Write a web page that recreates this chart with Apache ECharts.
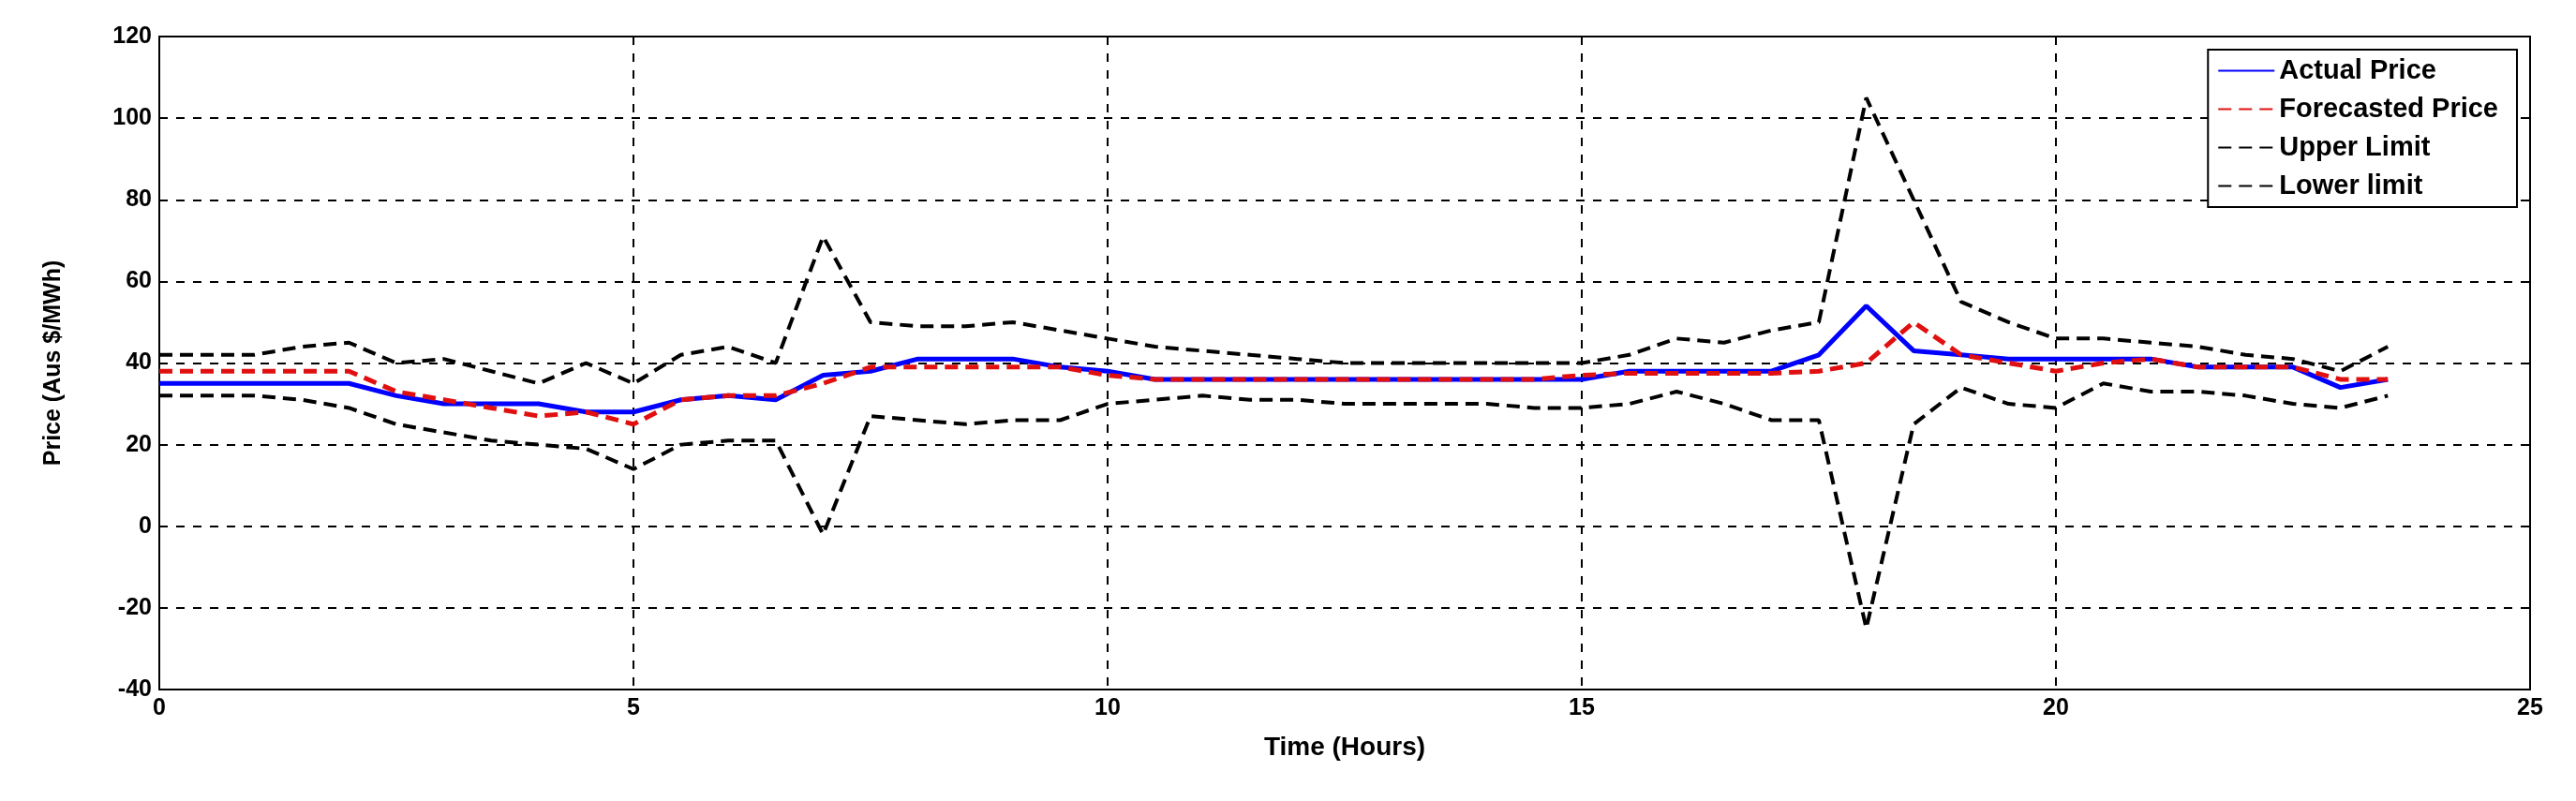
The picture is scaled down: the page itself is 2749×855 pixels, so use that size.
<!DOCTYPE html>
<html>
<head>
<meta charset="utf-8">
<style>
  html, body { margin: 0; padding: 0; background: #fff; }
  #container { width: 2749px; height: 855px; }
</style>
<script src="https://cdn.jsdelivr.net/npm/echarts@6/dist/echarts.min.js"></script>
</head>
<body>
<div id="container"></div>
<script>
// half-hourly samples 0 .. 23.5
const hours = [];
for (let i = 0; i < 48; i++) hours.push(i / 2);

const actualPrice = [35,35,35,35,35,32,30,30,30,28,28,31,32,31,37,38,41,41,41,39,38,36,36,36,36,36,36,36,36,36,36,38,38,38,38,42,54,43,42,41,41,41,41,39,39,39,34,36];
const forecastPrice = [38,38,38,38,38,33,31,29,27,28,25,31,32,32,35,39,39,39,39,39,37,36,36,36,36,36,36,36,36,36,37,37.5,37.5,37.5,37.5,38,40,50,42,40,38,40,41,39,39,39,36,36];
const upperLimit = [42,42,42,44,45,40,41,38,35,40,35,42,44,40,71,50,49,49,50,48,46,44,43,42,41,40,40,40,40,40,40,42,46,45,48,50,105,80,55,50,46,46,45,44,42,41,38,44];
const lowerLimit = [32,32,32,31,29,25,23,21,20,19,14,20,21,21,-2,27,26,25,26,26,30,31,32,31,31,30,30,30,30,29,29,30,33,30,26,26,-25,25,34,30,29,35,33,33,32,30,29,32];

function pairs(v) { return v.map((y, i) => [hours[i], y]); }

const chart = echarts.init(document.getElementById('container'));
const axisText = { color: '#000', fontSize: 25, fontWeight: 'bold', fontFamily: 'Liberation Sans' };
const dashed = { show: true, lineStyle: { color: '#000', type: [9, 9], width: 2 } };

chart.setOption({
  animation: false,
  backgroundColor: '#fff',
  grid: { left: 170, right: 49, top: 39, bottom: 119, show: true, borderColor: '#000', borderWidth: 2 },
  legend: {
    right: 63, top: 53, orient: 'vertical', itemGap: 12, itemWidth: 60, itemHeight: 14,
    backgroundColor: '#fff', borderColor: '#000', borderWidth: 2, padding: [8, 20, 8, 10],
    itemStyle: { opacity: 0 },
    textStyle: { color: '#000', fontSize: 29, fontWeight: 'bold', fontFamily: 'Liberation Sans' },
    data: ['Actual Price', 'Forecasted Price', 'Upper Limit', 'Lower limit']
  },
  xAxis: {
    type: 'value', min: 0, max: 25, interval: 5,
    name: 'Time (Hours)', nameLocation: 'middle', nameGap: 48,
    nameTextStyle: { color: '#000', fontSize: 28, fontWeight: 'bold', fontFamily: 'Liberation Sans' },
    axisLine: { show: false }, axisTick: { show: false },
    axisLabel: axisText, splitLine: dashed
  },
  yAxis: {
    type: 'value', min: -40, max: 120, interval: 20,
    name: 'Price (Aus $/MWh)', nameLocation: 'middle', nameGap: 100,
    nameTextStyle: { color: '#000', fontSize: 25, fontWeight: 'bold', fontFamily: 'Liberation Sans' },
    axisLine: { show: false }, axisTick: { show: false },
    axisLabel: axisText, splitLine: dashed
  },
  series: [
    { name: 'Actual Price', type: 'line', data: pairs(actualPrice), symbol: 'none',
      lineStyle: { color: '#0000ff', width: 5 }, itemStyle: { color: '#0000ff' } },
    { name: 'Forecasted Price', type: 'line', data: pairs(forecastPrice), symbol: 'none',
      lineStyle: { color: '#e01010', width: 5, type: [14, 8] }, itemStyle: { color: '#e01010' } },
    { name: 'Upper Limit', type: 'line', data: pairs(upperLimit), symbol: 'none',
      lineStyle: { color: '#000', width: 4, type: [14, 8] }, itemStyle: { color: '#000' } },
    { name: 'Lower limit', type: 'line', data: pairs(lowerLimit), symbol: 'none',
      lineStyle: { color: '#000', width: 4, type: [14, 8] }, itemStyle: { color: '#000' } }
  ]
});
</script>
</body>
</html>
